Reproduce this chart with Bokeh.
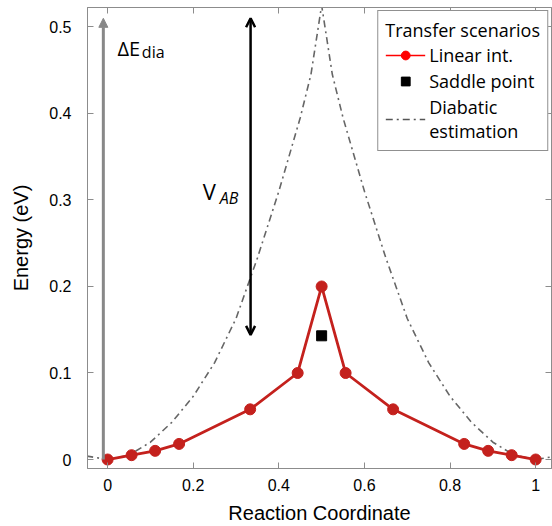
from bokeh.plotting import figure
from bokeh.models import (Range1d, FixedTicker, LinearAxis, Legend, LegendItem,
                          Arrow, NormalHead, OpenHead, Label)
from bokeh.embed import file_html
from bokeh.resources import INLINE

# ---- data ----
lin_x = [0.0, 0.056, 0.111, 0.167, 0.333, 0.444, 0.5, 0.556, 0.667, 0.833, 0.889, 0.944, 1.0]
lin_y = [0.0, 0.005, 0.010, 0.018, 0.058, 0.100, 0.200, 0.100, 0.058, 0.018, 0.010, 0.005, 0.0]

saddle_x = [0.5]
saddle_y = [0.143]

dia_x = [-0.05, 0.0, 0.05, 0.10, 0.15, 0.20, 0.25, 0.30, 0.35, 0.40, 0.45, 0.475, 0.50,
         0.525, 0.55, 0.60, 0.65, 0.70, 0.75, 0.80, 0.85, 0.90, 0.95, 1.0, 1.05]
dia_y = [0.004, 0.0, 0.005, 0.020, 0.043, 0.073, 0.112, 0.163, 0.233, 0.310, 0.395, 0.445, 0.525,
         0.445, 0.395, 0.310, 0.233, 0.163, 0.112, 0.073, 0.043, 0.020, 0.005, 0.0, 0.004]

xticks = [0, 0.2, 0.4, 0.6, 0.8, 1.0]
xtick_labels = ["0", "0.2", "0.4", "0.6", "0.8", "1"]
yticks = [0, 0.1, 0.2, 0.3, 0.4, 0.5]
ytick_labels = ["0", "0.1", "0.2", "0.3", "0.4", "0.5"]

dE_arrow_x = -0.01
dE_arrow_y = [0.0, 0.51]
vab_arrow_x = 0.334
vab_arrow_y = [0.144, 0.51]

RED = "#c4211d"
AXC = "#8c8c8c"

p = figure(width=552, height=526, output_backend="svg", toolbar_location=None,
           x_range=Range1d(-0.047, 1.037), y_range=Range1d(-0.0104, 0.5225),
           min_border_left=87, min_border_right=1, min_border_top=7, min_border_bottom=57)
p.grid.visible = False
p.outline_line_color = AXC
p.outline_line_width = 1
p.background_fill_color = "white"
p.border_fill_color = "white"

def style_axis(ax, ticks, labels, show_labels=True):
    ax.ticker = FixedTicker(ticks=ticks)
    ax.major_label_overrides = {t: l for t, l in zip(ticks, labels)}
    ax.axis_line_color = AXC
    ax.major_tick_line_color = AXC
    ax.major_tick_in = 6
    ax.major_tick_out = 0
    ax.minor_tick_line_color = None
    ax.major_label_text_font = "Liberation Sans"
    ax.major_label_text_font_size = "16px"
    ax.major_label_text_color = "black"
    if not show_labels:
        ax.major_label_text_font_size = "0px"
        ax.major_label_text_color = None

style_axis(p.xaxis[0], xticks, xtick_labels)
style_axis(p.yaxis[0], yticks, ytick_labels)
p.xaxis[0].major_label_standoff = 10
p.yaxis[0].major_label_standoff = 16
p.xaxis[0].axis_label = "Reaction Coordinate"
p.yaxis[0].axis_label = "Energy (eV)"
for ax in (p.xaxis[0], p.yaxis[0]):
    ax.axis_label_text_font = "Liberation Sans"
    ax.axis_label_text_font_size = "20px"
    ax.axis_label_text_font_style = "normal"
    ax.axis_label_text_color = "black"
p.xaxis[0].axis_label_standoff = 8
p.yaxis[0].axis_label_standoff = 14

top_ax = LinearAxis()
style_axis(top_ax, xticks, xtick_labels, show_labels=False)
p.add_layout(top_ax, "above")
right_ax = LinearAxis()
style_axis(right_ax, yticks, ytick_labels, show_labels=False)
p.add_layout(right_ax, "right")
top_ax.major_label_standoff = 0
right_ax.major_label_standoff = 0

# diabatic curve
p.line(dia_x, dia_y, line_color="#666666", line_width=1.6, line_dash="7 4 2 4")

# arrows
p.add_layout(Arrow(end=NormalHead(size=9, fill_color="#888888", line_color="#888888"),
                   x_start=dE_arrow_x, y_start=dE_arrow_y[0], x_end=dE_arrow_x, y_end=dE_arrow_y[1],
                   line_color="#888888", line_width=3))
p.add_layout(Arrow(start=OpenHead(size=9, line_width=2.5, line_color="black"),
                   end=OpenHead(size=9, line_width=2.5, line_color="black"),
                   x_start=vab_arrow_x, y_start=vab_arrow_y[0], x_end=vab_arrow_x, y_end=vab_arrow_y[1],
                   line_color="black", line_width=2.5))

# linear interpolation
p.line(lin_x, lin_y, line_color=RED, line_width=2.8)
p.scatter(lin_x, lin_y, size=11, fill_color=RED, line_color=RED)
# saddle point
p.scatter(saddle_x, saddle_y, marker="square", size=10, fill_color="black", line_color="black")

# legend proxies
nan = float("nan")
l1 = p.line([nan], [nan], line_color="#ff0000", line_width=1.5)
l1m = p.scatter([nan], [nan], size=11, fill_color="#ff0000", line_color="#ff0000")
l2 = p.scatter([nan], [nan], marker="square", size=11, fill_color="black", line_color="black")
l3 = p.line([nan], [nan], line_color="#555555", line_width=1.6, line_dash="7 4 2 4")

legend = Legend(items=[LegendItem(label="Linear int.", renderers=[l1, l1m]),
                       LegendItem(label="Saddle point", renderers=[l2]),
                       LegendItem(label="Diabatic\nestimation", renderers=[l3])],
                location="top_right", title="Transfer scenarios")
legend.title_text_font = "Open Sans"
legend.title_text_font_size = "18px"
legend.title_text_font_style = "normal"
legend.title_text_color = "black"
legend.label_text_font = "Open Sans"
legend.label_text_font_size = "18px"
legend.label_text_line_height = 1.15
legend.label_text_color = "black"
legend.border_line_color = "#222222"
legend.border_line_width = 1.5
legend.margin = 3
legend.padding = 7
legend.spacing = 2
legend.label_height = 22
legend.glyph_height = 22
legend.glyph_width = 40
legend.label_standoff = 4
legend.title_standoff = 1
legend.background_fill_alpha = 1.0
p.add_layout(legend)

# text labels
p.add_layout(Label(x=0.023, y=0.475, text="ΔE", text_font="Open Sans", text_font_size="20px",
                   text_color="black", text_baseline="alphabetic"))
p.add_layout(Label(x=0.080, y=0.471, text="dia", text_font="Open Sans", text_font_size="16px",
                   text_color="black", text_baseline="alphabetic"))
p.add_layout(Label(x=0.222, y=0.310, text="V", text_font="Open Sans", text_font_size="22px",
                   text_color="black", text_baseline="alphabetic"))
p.add_layout(Label(x=0.262, y=0.302, text="AB", text_font="Open Sans", text_font_size="16px",
                   text_font_style="italic", text_color="black", text_baseline="alphabetic"))

open("out.html", "w").write(file_html(p, INLINE))
